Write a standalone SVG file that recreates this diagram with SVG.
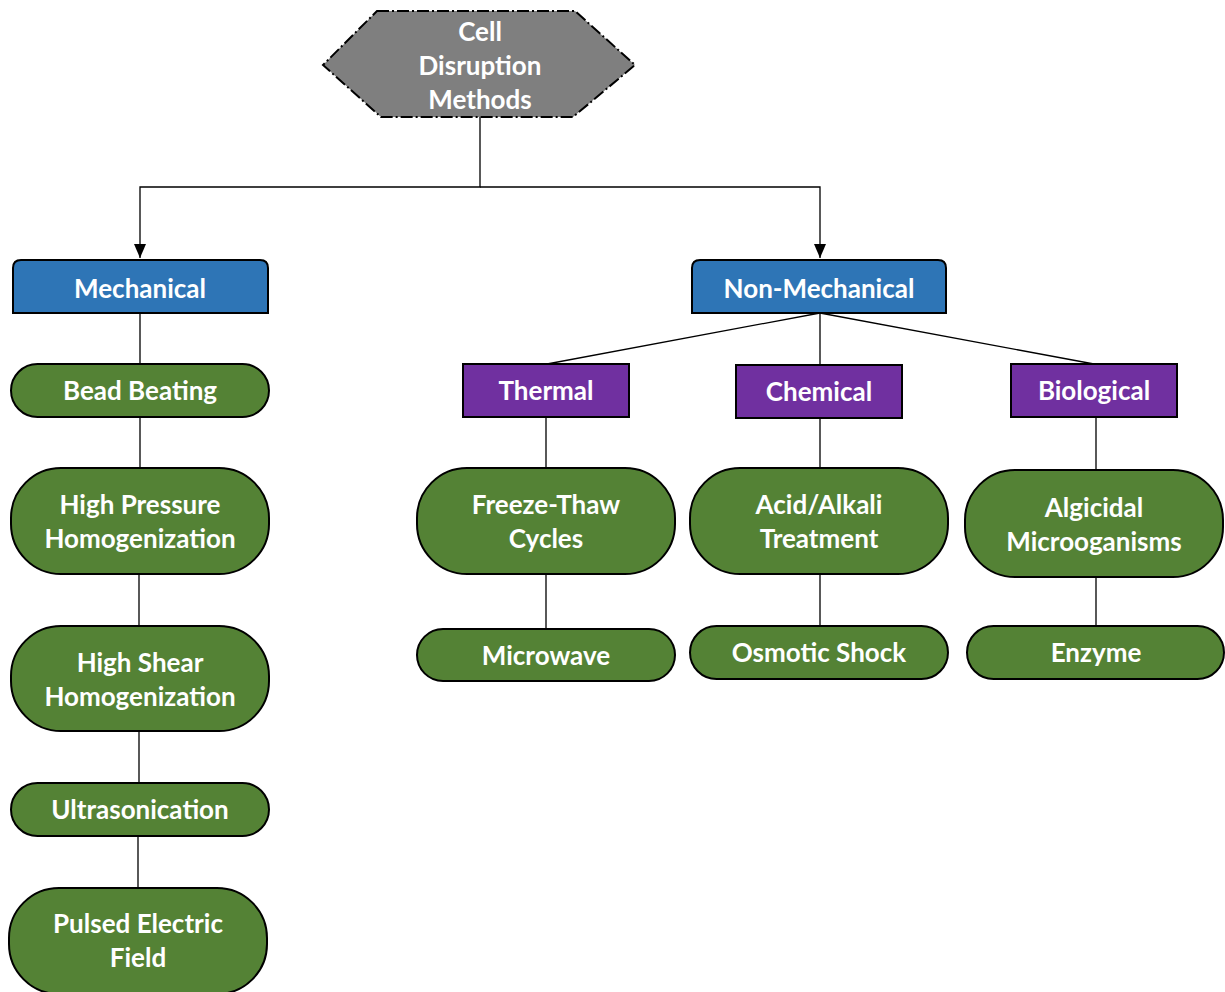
<svg xmlns="http://www.w3.org/2000/svg" width="1225" height="992" viewBox="0 0 1225 992">
  <defs>
    <marker id="arrow" viewBox="0 0 14 12" refX="14" refY="6" markerWidth="14" markerHeight="12" markerUnits="userSpaceOnUse" orient="auto">
      <path d="M0,0 L14,6 L0,12 z" fill="#000"/>
    </marker>
    <style>
      text { font-family: Lato, "Open Sans", sans-serif; font-weight: 700; font-size: 26px; fill: #fff; text-anchor: middle; dominant-baseline: central; }
      .root { fill: #7f7f7f; stroke: #000; stroke-width: 2; stroke-dasharray: 12 3 2 3; }
      .cat { fill: #2e75b6; stroke: #000; stroke-width: 2; }
      .sub { fill: #7030a0; stroke: #000; stroke-width: 2; }
      .leaf { fill: #548235; stroke: #000; stroke-width: 2; }
      .conn { fill: none; stroke: #000; stroke-width: 1.3; }
    </style>
  </defs>
  <rect width="1225" height="992" fill="#fff"/>

  <g id="connectors">
    <path class="conn" d="M480,117 V187 H140 V258" marker-end="url(#arrow)"/>
    <path class="conn" d="M480,187 H820 V258" marker-end="url(#arrow)"/>
    <path class="conn" d="M140,313 V364 M140,417 V468 M139,574 V626 M139,731 V783 M138,836 V888"/>
    <path class="conn" d="M820,313 L547,364 M820,313 V365 M820,313 L1094,364"/>
    <path class="conn" d="M546,417 V468 M546,574 V629"/>
    <path class="conn" d="M820,418 V468 M820,574 V626"/>
    <path class="conn" d="M1096,417 V470 M1096,577 V626"/>
  </g>

  <g id="root">
    <polygon class="root" points="377,11 575,11 635,65 573,117 381,117 323,65"/>
    <text x="480" y="31">Cell</text>
    <text x="480" y="65">Disruption</text>
    <text x="480" y="99">Methods</text>
  </g>

  <g id="mechanical">
    <path class="cat" d="M13,313 V268 Q13,260 21,260 H260 Q268,260 268,268 V313 Z"/>
    <text x="140" y="288">Mechanical</text>
  </g>
  <g id="non-mechanical">
    <path class="cat" d="M692,313 V268 Q692,260 700,260 H938 Q946,260 946,268 V313 Z"/>
    <text x="819" y="288">Non-Mechanical</text>
  </g>

  <g id="bead-beating">
    <rect class="leaf" x="11" y="364" width="258" height="53" rx="26.5"/>
    <text x="140" y="390">Bead Beating</text>
  </g>
  <g id="high-pressure">
    <rect class="leaf" x="11" y="468" width="258" height="106" rx="50"/>
    <text x="140" y="504">High Pressure</text>
    <text x="140" y="538">Homogenization</text>
  </g>
  <g id="high-shear">
    <rect class="leaf" x="11" y="626" width="258" height="105" rx="50"/>
    <text x="140" y="662">High Shear</text>
    <text x="140" y="696">Homogenization</text>
  </g>
  <g id="ultrasonication">
    <rect class="leaf" x="11" y="783" width="258" height="53" rx="26.5"/>
    <text x="140" y="809">Ultrasonication</text>
  </g>
  <g id="pulsed-electric-field">
    <rect class="leaf" x="9" y="888" width="258" height="106" rx="50"/>
    <text x="138" y="923">Pulsed Electric</text>
    <text x="138" y="957">Field</text>
  </g>

  <g id="thermal">
    <rect class="sub" x="463" y="364" width="166" height="53"/>
    <text x="546" y="390">Thermal</text>
  </g>
  <g id="chemical">
    <rect class="sub" x="736" y="365" width="166" height="53"/>
    <text x="819" y="391">Chemical</text>
  </g>
  <g id="biological">
    <rect class="sub" x="1011" y="364" width="166" height="53"/>
    <text x="1094" y="390">Biological</text>
  </g>

  <g id="freeze-thaw">
    <rect class="leaf" x="417" y="468" width="258" height="106" rx="50"/>
    <text x="546" y="504">Freeze-Thaw</text>
    <text x="546" y="538">Cycles</text>
  </g>
  <g id="microwave">
    <rect class="leaf" x="417" y="629" width="258" height="52" rx="26"/>
    <text x="546" y="655">Microwave</text>
  </g>
  <g id="acid-alkali">
    <rect class="leaf" x="690" y="468" width="258" height="106" rx="50"/>
    <text x="819" y="504">Acid/Alkali</text>
    <text x="819" y="538">Treatment</text>
  </g>
  <g id="osmotic-shock">
    <rect class="leaf" x="690" y="626" width="258" height="53" rx="26.5"/>
    <text x="819" y="652">Osmotic Shock</text>
  </g>
  <g id="algicidal">
    <rect class="leaf" x="965" y="470" width="258" height="107" rx="50"/>
    <text x="1094" y="507">Algicidal</text>
    <text x="1094" y="541">Microoganisms</text>
  </g>
  <g id="enzyme">
    <rect class="leaf" x="967" y="626" width="257" height="53" rx="26.5"/>
    <text x="1096" y="652">Enzyme</text>
  </g>
</svg>
